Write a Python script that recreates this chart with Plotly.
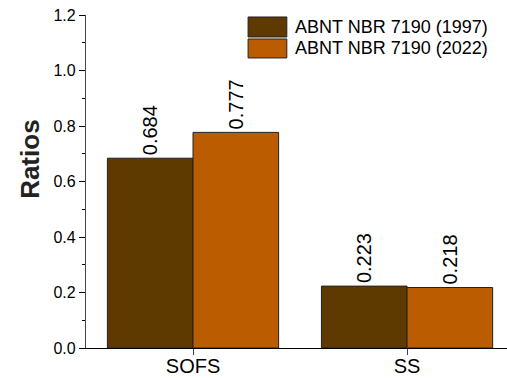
import plotly.graph_objects as go

categories = ["SOFS", "SS"]
series_names = ["ABNT NBR 7190 (1997)", "ABNT NBR 7190 (2022)"]
values_1997 = [0.684, 0.223]
values_2022 = [0.777, 0.218]
labels_1997 = ["0.684", "0.223"]
labels_2022 = ["0.777", "0.218"]
colors = ["#5F3A00", "#BB5C00"]

FONT = "Liberation Sans, Arial, sans-serif"

fig = go.Figure()
for name, vals, labs, col in zip(series_names, [values_1997, values_2022],
                                 [labels_1997, labels_2022], colors):
    fig.add_trace(go.Bar(
        x=categories, y=vals, name=name, text=labs,
        textposition="outside", textangle=-90,
        textfont=dict(family=FONT, size=20, color="black"),
        marker=dict(color=col, line=dict(color="#222222", width=1)),
        cliponaxis=False, showlegend=False,
    ))

# legend drawn manually
box_y = [(0.994, 0.934), (0.928, 0.871)]
txt_y = [0.964, 0.901]
for i, (name, col) in enumerate(zip(series_names, colors)):
    fig.add_shape(type="rect", xref="paper", yref="paper",
                  x0=0.385, x1=0.477, y0=box_y[i][1], y1=box_y[i][0],
                  fillcolor=col, line=dict(color="#222222", width=1))
    fig.add_annotation(xref="paper", yref="paper", x=0.492, y=txt_y[i],
                       text=name, showarrow=False, xanchor="left", yanchor="middle",
                       font=dict(family=FONT, size=18, color="black"))

fig.add_annotation(xref="paper", yref="paper", x=-0.133, y=0.565,
                   text="<b>Ratios</b>", textangle=-90, showarrow=False,
                   xanchor="center", yanchor="middle",
                   font=dict(family=FONT, size=26, color="#222222"))

fig.update_layout(
    width=507, height=378,
    margin=dict(l=86, r=0, t=15, b=30),
    paper_bgcolor="white", plot_bgcolor="white",
    barmode="group", bargap=0.2, bargroupgap=0,
    font=dict(family=FONT, size=16, color="black"),
    uniformtext=dict(mode=False),
)
fig.update_xaxes(
    range=[-0.5, 1.467], showline=True, linecolor="black", linewidth=1.2,
    ticks="outside", ticklen=6, tickcolor="#444444", showgrid=False, automargin=False,
    ticklabelstandoff=-6,
    tickfont=dict(family=FONT, size=20, color="black"),
    minor=dict(ticks="outside", ticklen=3, tickcolor="#444444", tick0=0.5, dtick=1, showgrid=False),
)
fig.update_yaxes(
    range=[0, 1.2], dtick=0.2, tickformat=".1f", showline=True, linecolor="#444444",
    linewidth=1.2, ticks="outside", ticklen=6, tickcolor="black", showgrid=False,
    zeroline=False, automargin=False, tickfont=dict(family=FONT, size=16, color="black"),
    minor=dict(ticks="outside", ticklen=3, tickcolor="black", dtick=0.1, showgrid=False),
)

fig.write_html("out.html", config={"displayModeBar": False},
               post_script="document.body.style.margin='0px';")
